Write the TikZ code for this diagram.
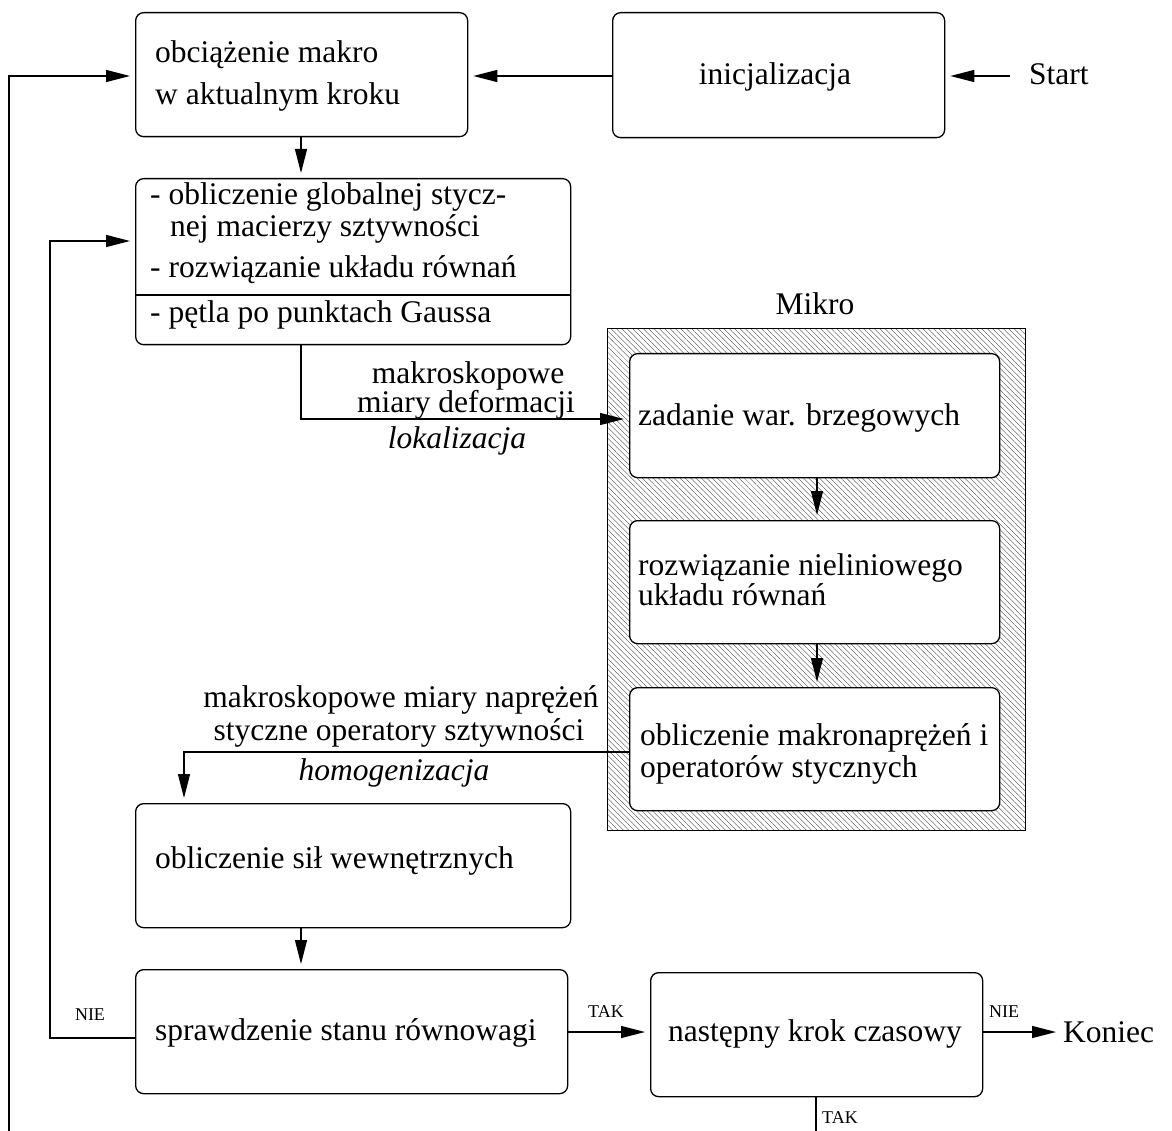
\documentclass[tikz,border=0pt]{standalone}
\usepackage{fontspec}
\setmainfont{Liberation Serif}
\usetikzlibrary{arrows.meta,patterns.meta}
\begin{document}
\begin{tikzpicture}[x=1pt,y=-1pt,
  box/.style={draw,line width=1.3pt,rounded corners=8pt,fill=white,inner sep=0pt,anchor=north west},
  txt/.style={inner sep=0pt,anchor=base west,font=\fontsize{31.5}{36}\selectfont},
  ctxt/.style={inner sep=0pt,anchor=base,font=\fontsize{31.5}{36}\selectfont},
  small/.style={inner sep=0pt,anchor=base,font=\fontsize{18}{20}\selectfont},
  conn/.style={line width=1.3pt},
  arr/.style={conn,-{Triangle[length=24pt,width=12pt]},shorten >=5pt},
]
\useasboundingbox (0,0) rectangle (1172,1131);

% micro frame
\node[draw,line width=1.3pt,anchor=north west,inner sep=0pt,minimum width=418pt,minimum height=502pt,
  pattern={Lines[angle=-45,distance=3.8pt,line width=0.35pt]},pattern color=black!75] (mikro) at (607,328) {};
\node[ctxt] (mikrolbl) at (815,315) {Mikro};

% boxes
\node[box,minimum width=332pt,minimum height=124pt] (macro) at (135,12) {};
\node[box,minimum width=332pt,minimum height=125pt] (init) at (612,12) {};
\node[box,minimum width=435pt,minimum height=166pt] (glob) at (135,178) {};
\node[box,minimum width=370pt,minimum height=124pt] (ma) at (629,353) {};
\node[box,minimum width=370pt,minimum height=123pt] (mb) at (629,520) {};
\node[box,minimum width=370pt,minimum height=123pt] (mc) at (629,687) {};
\node[box,minimum width=435pt,minimum height=124pt] (sil) at (135,803) {};
\node[box,minimum width=432pt,minimum height=124pt] (check) at (135,969) {};
\node[box,minimum width=332pt,minimum height=124pt] (next) at (650,972) {};

\draw[conn] (glob.west |- 0,295) -- (glob.east |- 0,295);

% texts
\node[txt] (t1a) at (155,63) {obciążenie makro};
\node[txt] (t1b) at (155,105) {w aktualnym kroku};
\node[ctxt] (tinit) at (775,85) {inicjalizacja};
\node[txt] (tstart) at (1029,85) {Start};
\node[txt] (t2a) at (150,205) {- obliczenie globalnej stycz-};
\node[txt] (t2b) at (170,237) {nej macierzy sztywności};
\node[txt] (t2c) at (150,278) {- rozwiązanie układu równań};
\node[txt] (t2d) at (150,323) {- pętla po punktach Gaussa};
\node[txt] (tma) at (638,425) {zadanie war. brzegowych};
\node[txt] (tmb1) at (638,575) {rozwiązanie nieliniowego};
\node[txt] (tmb2) at (638,605) {układu równań};
\node[txt] (tmc1) at (640,745) {obliczenie makronaprężeń i};
\node[txt] (tmc2) at (640,777) {operatorów stycznych};
\node[txt] (tsil) at (155,868) {obliczenie sił wewnętrznych};
\node[txt] (tcheck) at (155,1040) {sprawdzenie stanu równowagi};
\node[ctxt] (tnext) at (815,1041) {następny krok czasowy};
\node[txt] (tkon) at (1063,1042) {Koniec};

\node[ctxt] (l1) at (468,383) {makroskopowe};
\node[ctxt] (l2) at (466,412) {miary deformacji};
\node[ctxt,font=\fontsize{31.5}{36}\selectfont\itshape] (l3) at (457,448) {lokalizacja};
\node[ctxt] (l4) at (401,707) {makroskopowe miary naprężeń};
\node[ctxt] (l5) at (399,740) {styczne operatory sztywności};
\node[ctxt,font=\fontsize{31.5}{36}\selectfont\itshape] (l6) at (394,780) {homogenizacja};

\node[small] (nie1) at (90,1020) {NIE};
\node[small] (tak1) at (606,1017) {TAK};
\node[small] (nie2) at (1004,1017) {NIE};
\node[small] (tak2) at (840,1123) {TAK};

% connectors
\coordinate (s0) at (1010,76);
\coordinate (loopA) at (9,1131);
\coordinate (loopB) at (816,1131);
\coordinate (kon) at (1061,1032);

\draw[arr] (s0) -- (init.east |- s0);
\draw[arr] (init.west |- s0) -- (macro.east |- s0);
\draw[arr] (loopA) |- (macro.west |- s0);
\draw[arr] (macro.south -| 301,0) -- (glob.north -| 301,0);
\draw[arr] (glob.south -| 301,0) |- (ma.west |- 0,419);
\draw[arr] (ma.south -| 817,0) -- (mb.north -| 817,0);
\draw[arr] (mb.south -| 817,0) -- (mc.north -| 817,0);
\draw[arr] (mc.west |- 0,752) -| (sil.north -| 184,0);
\draw[arr] (sil.south -| 301,0) -- (check.north -| 301,0);
\draw[arr] (check.west |- 0,1038) -- (50,1038) |- (glob.west |- 0,241);
\draw[arr] (check.east |- kon) -- (next.west |- kon);
\draw[arr] (next.east |- kon) -- (kon);
\draw[conn] (next.south -| loopB) -- (loopB);
\end{tikzpicture}
\end{document}
